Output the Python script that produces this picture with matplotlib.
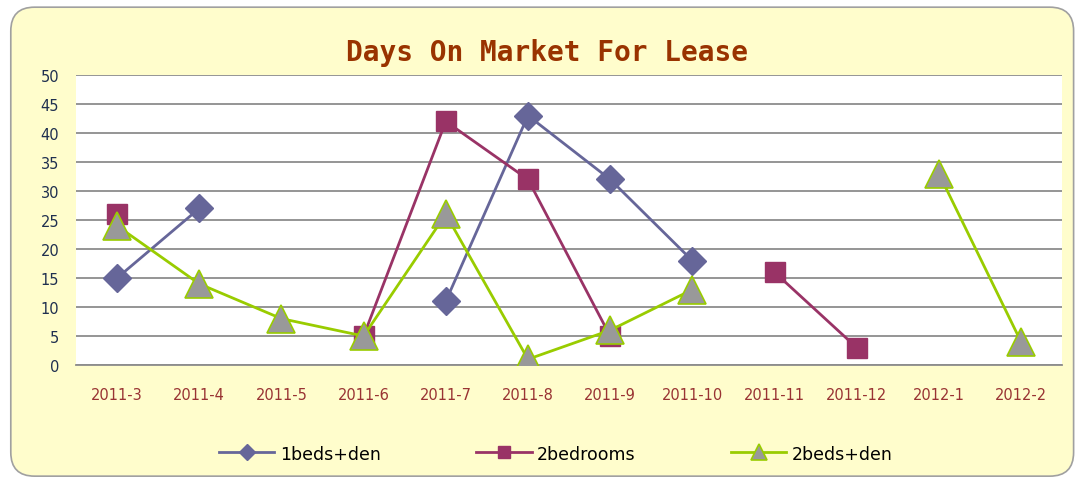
import numpy as np
import matplotlib.pyplot as plt
from matplotlib.patches import FancyBboxPatch

months = ['2011-3', '2011-4', '2011-5', '2011-6', '2011-7', '2011-8',
          '2011-9', '2011-10', '2011-11', '2011-12', '2012-1', '2012-2']
nan = np.nan
beds1_den = [15, 27, nan, nan, 11, 43, 32, 18, nan, nan, nan, nan]
bedrooms2 = [26, nan, nan, 5, 42, 32, 5, nan, 16, 3, nan, nan]
beds2_den = [24, 14, 8, 5, 26, 1, 6, 13, nan, nan, 33, 4]

fig = plt.figure(figsize=(10.79, 4.81), dpi=100)
fig.patch.set_facecolor('white')

# rounded yellow chart frame, kept behind the axes
frame = FancyBboxPatch((0.01, 0.008), 0.985, 0.975,
                       boxstyle='round,pad=0,rounding_size=0.022',
                       transform=fig.transFigure, facecolor='#FFFDCC',
                       edgecolor='#A0A0A0', linewidth=1.2, zorder=-5,
                       mutation_aspect=1079 / 481)
fig.patches.append(frame)

ax = fig.add_axes([0.0704, 0.239, 0.914, 0.603])
ax.set_zorder(1)
ax.set_facecolor('white')
x = np.arange(len(months))

ax.plot(x, beds1_den, color='#666699', lw=2, marker='D', ms=14,
        label='1beds+den', zorder=3)
ax.plot(x, bedrooms2, color='#993366', lw=2, marker='s', ms=15,
        label='2bedrooms', zorder=3)
ax.plot(x, beds2_den, color='#99CC00', lw=2, marker='^', ms=20,
        markerfacecolor='#999999', markeredgecolor='#99CC00', mew=1.2,
        label='2beds+den', zorder=4)

ax.set_xlim(-0.5, len(months) - 0.5)
ax.set_ylim(0, 50)
ax.set_yticks(range(0, 51, 5))
ax.set_xticks(x)
ax.set_xticklabels(months, color='#993333', fontsize=10.5)
ax.tick_params(axis='y', colors='#1F2F4F', labelsize=10.5, length=0, pad=12)
ax.tick_params(axis='x', length=0, pad=16)

ax.grid(axis='y', color='#8C8C8C', lw=1.3)
ax.set_axisbelow(True)
for side in ['left', 'right', 'top']:
    ax.spines[side].set_visible(False)
ax.spines['bottom'].set_color('#8C8C8C')
ax.spines['bottom'].set_linewidth(1.3)

fig.text(0.507, 0.89, 'Days On Market For Lease', ha='center', va='center',
         family='DejaVu Sans Mono', fontweight='bold', fontsize=20,
         color='#993300')

leg = fig.legend(loc='center', bbox_to_anchor=(0.515, 0.055), ncol=3,
                 frameon=False, fontsize=12.5, columnspacing=5.5,
                 handlelength=3.2, handletextpad=0.3, markerscale=0.55)

fig.savefig('out.png', dpi=100, facecolor=fig.get_facecolor())
